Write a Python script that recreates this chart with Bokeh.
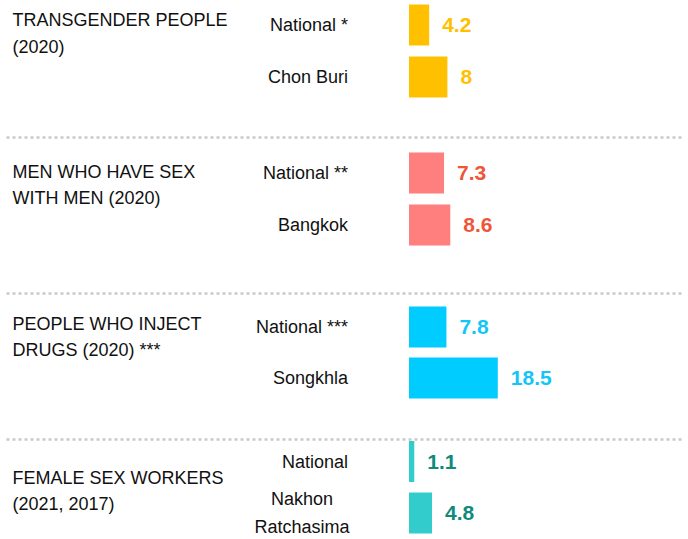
from bokeh.plotting import figure
from bokeh.models import ColumnDataSource, Range1d
from bokeh.core.properties import value
from bokeh.embed import file_html
from bokeh.resources import INLINE

# ---- data ----
group_titles = ["TRANSGENDER PEOPLE\n(2020)",
                "MEN WHO HAVE SEX\nWITH  MEN (2020)",
                "PEOPLE WHO INJECT\nDRUGS (2020)  ***",
                "FEMALE SEX WORKERS\n(2021,  2017)"]
locations = ["National *", "Chon Buri",
             "National **", "Bangkok",
             "National ***", "Songkhla",
             "National", "Nakhon\nRatchasima"]
values = [4.2, 8.0, 7.3, 8.6, 7.8, 18.5, 1.1, 4.8]
group_of_row = [0, 0, 1, 1, 2, 2, 3, 3]

# ---- styles ----
bar_colors = ["#FFC000", "#FF7F7F", "#00CCFF", "#33CCCC"]
label_colors = ["#FFC000", "#EE5539", "#13C6F6", "#0F8A7C"]

# ---- layout (pixels, y axis runs downward) ----
W, H = 688, 539
px_per_unit = 4.8
baseline_px = 408.5
row_centers = [24.5, 76.5, 172.5, 224.5, 326.5, 377.5, 461.0, 512.5]
title_centers = [33.0, 184.5, 336.5, 490.5]
separators = [137, 293, 439]
LABEL_FONT = "'Liberation Sans', Arial, sans-serif"
VALUE_FONT = "'Liberation Sans', Arial, sans-serif"

x_left = -baseline_px / px_per_unit
x_right = (W - baseline_px) / px_per_unit
p = figure(width=W, height=H, output_backend="svg", toolbar_location=None,
           x_range=Range1d(x_left, x_right), y_range=Range1d(H, 0), min_border=0)
p.axis.visible = False
p.grid.visible = False
p.outline_line_color = None
p.background_fill_color = "white"
p.border_fill_color = "white"

# dotted separators
p.segment(x0=[x_left + 6 / px_per_unit] * len(separators),
          x1=[x_right - 6 / px_per_unit] * len(separators),
          y0=separators, y1=separators,
          line_color="#C9C9C9", line_width=2.5, line_dash="3 3")

src = ColumnDataSource(dict(
    y=row_centers,
    v=values,
    vl=[f"{v:g}" for v in values],
    loc=locations,
    bc=[bar_colors[g] for g in group_of_row],
    lc=[label_colors[g] for g in group_of_row],
))

p.hbar(y="y", left=0, right="v", height=41, fill_color="bc", line_color=None, source=src)

p.text(x="v", y="y", text="vl", text_color="lc", x_offset=13,
       text_font=value(VALUE_FONT), text_font_size="21px", text_font_style="bold",
       text_align="left", text_baseline="middle", source=src)

# location labels
single = [i for i, t in enumerate(locations) if "\n" not in t]
multi = [i for i, t in enumerate(locations) if "\n" in t]
src1 = ColumnDataSource(dict(x=[0] * len(single), y=[row_centers[i] for i in single],
                             t=[locations[i] for i in single]))
p.text(x="x", y="y", text="t", x_offset=-61, text_align="right", text_baseline="middle",
       text_font=value(LABEL_FONT), text_font_size="18px", text_color="#111111",
       source=src1)
src2 = ColumnDataSource(dict(x=[0] * len(multi), y=[row_centers[i] for i in multi],
                             t=[locations[i] for i in multi]))
p.text(x="x", y="y", text="t", x_offset=-107, text_align="center", text_baseline="middle",
       text_font=value(LABEL_FONT), text_font_size="18px", text_color="#111111",
       text_line_height=1.36, source=src2)

# group titles
src3 = ColumnDataSource(dict(x=[x_left] * len(group_titles), y=title_centers, t=group_titles))
p.text(x="x", y="y", text="t", x_offset=12, text_align="left", text_baseline="middle",
       text_font=value(LABEL_FONT), text_font_size="18px", text_color="#111111",
       text_line_height=1.33, source=src3)

open("out.html", "w").write(file_html(p, INLINE))
